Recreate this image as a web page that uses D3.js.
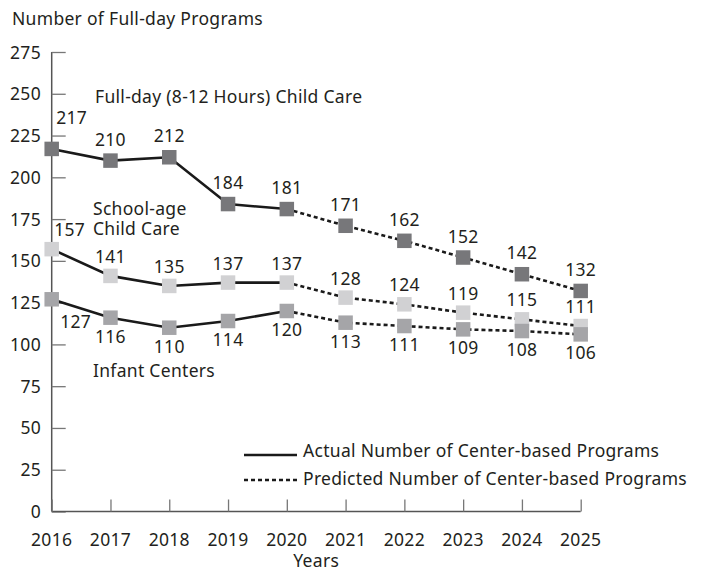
<!DOCTYPE html>
<html>
<head>
<meta charset="utf-8">
<script src="https://cdn.jsdelivr.net/npm/d3@7"></script>
<style>
  body { margin: 0; background: #fff; }
  svg text { font-family: "Noto Sans", sans-serif; fill: #231f20; font-size: 17.5px; letter-spacing: 0.3px; }
</style>
</head>
<body>
<div id="chart"></div>
<script>
// data
var years = [2016, 2017, 2018, 2019, 2020, 2021, 2022, 2023, 2024, 2025];
var lastActualYear = 2020;
var fullDay = [217, 210, 212, 184, 181, 171, 162, 152, 142, 132];
var schoolAge = [157, 141, 135, 137, 137, 128, 124, 119, 115, 111];
var infant = [127, 116, 110, 114, 120, 113, 111, 109, 108, 106];
var yTicks = [0, 25, 50, 75, 100, 125, 150, 175, 200, 225, 250, 275];
var seriesNames = ["Full-day (8-12 Hours) Child Care", "School-age Child Care", "Infant Centers"];
var legendLabels = ["Actual Number of Center-based Programs", "Predicted Number of Center-based Programs"];

var width = 707, height = 572;

var x = d3.scaleLinear().domain([2016, 2025]).range([51.7, 580.7]);
var y = d3.scaleLinear().domain([0, 275]).range([511.5, 52]);

var svg = d3.select("#chart").append("svg")
    .attr("width", width)
    .attr("height", height);

// styles per series (kept out of the data arrays)
var series = [
    { name: seriesNames[0], values: fullDay, color: "#77777a", labelDy: -15, firstDx: 20, firstDy: -25 },
    { name: seriesNames[1], values: schoolAge, color: "#d1d1d3", labelDy: -13, firstDx: 18, firstDy: -13 },
    { name: seriesNames[2], values: infant, color: "#a5a5a8", labelDy: 25, firstDx: 24, firstDy: 29 }
];

// axes
svg.append("text")
    .attr("x", 12).attr("y", 25)
    .text("Number of Full-day Programs");

var yAxis = svg.append("g")
    .attr("transform", "translate(" + x(2016) + ",0)")
    .call(d3.axisRight(y).tickValues(yTicks).tickSize(14).tickFormat(""));
yAxis.select(".domain").attr("stroke", "#555").attr("stroke-width", 1.5)
    .attr("d", "M0," + y(275) + "V" + y(0));
yAxis.selectAll(".tick line").attr("stroke", "#777").attr("stroke-width", 1.3);

svg.append("g").selectAll("text")
    .data(yTicks)
    .enter().append("text")
    .attr("x", 41)
    .attr("y", function (d) { return y(d) + 6.5; })
    .attr("text-anchor", "end")
    .text(function (d) { return d; });

var xAxis = svg.append("g")
    .attr("transform", "translate(0," + y(0) + ")")
    .call(d3.axisTop(x).tickValues(years).tickSize(12).tickFormat(""));
xAxis.select(".domain").attr("stroke", "#555").attr("stroke-width", 1.5)
    .attr("d", "M" + x(2016) + ",0H" + x(2025));
xAxis.selectAll(".tick line").attr("stroke", "#777").attr("stroke-width", 1.3);

svg.append("g").selectAll("text")
    .data(years)
    .enter().append("text")
    .attr("x", function (d) { return x(d); })
    .attr("y", 546)
    .attr("text-anchor", "middle")
    .text(function (d) { return d; });

svg.append("text")
    .attr("x", (x(2016) + x(2025)) / 2).attr("y", 567)
    .attr("text-anchor", "middle")
    .text("Years");

// lines
var line = d3.line()
    .x(function (d) { return x(d.year); })
    .y(function (d) { return y(d.value); });

series.forEach(function (s) {
    var pts = years.map(function (yr, i) { return { year: yr, value: s.values[i] }; });
    svg.append("path")
        .datum(pts.filter(function (d) { return d.year <= lastActualYear; }))
        .attr("d", line)
        .attr("fill", "none")
        .attr("stroke", "#1a1a1a")
        .attr("stroke-width", 2.6);
    svg.append("path")
        .datum(pts.filter(function (d) { return d.year >= lastActualYear; }))
        .attr("d", line)
        .attr("fill", "none")
        .attr("stroke", "#1a1a1a")
        .attr("stroke-width", 2.6)
        .attr("stroke-dasharray", "4,3");
});

// markers + value labels
var sq = 14.5;
series.forEach(function (s) {
    var g = svg.append("g");
    g.selectAll("rect")
        .data(s.values)
        .enter().append("rect")
        .attr("x", function (d, i) { return x(years[i]) - sq / 2; })
        .attr("y", function (d) { return y(d) - sq / 2; })
        .attr("width", sq).attr("height", sq)
        .attr("fill", s.color);
});
series.forEach(function (s) {
    svg.append("g").selectAll("text")
        .data(s.values)
        .enter().append("text")
        .attr("x", function (d, i) { return x(years[i]) + (i === 0 ? s.firstDx : 0); })
        .attr("y", function (d, i) { return y(d) + (i === 0 ? s.firstDy : s.labelDy); })
        .attr("text-anchor", "middle")
        .text(function (d) { return d; });
});

// series names
svg.append("text").attr("x", 95).attr("y", 103).text(seriesNames[0]);
var school = svg.append("text").attr("x", 93).attr("y", 215);
school.append("tspan").attr("x", 93).attr("dy", 0).text("School-age");
school.append("tspan").attr("x", 93).attr("dy", 20).text("Child Care");
svg.append("text").attr("x", 93).attr("y", 377).text(seriesNames[2]);

// legend
var legend = svg.append("g");
legend.append("line")
    .attr("x1", 244).attr("x2", 297).attr("y1", 455).attr("y2", 455)
    .attr("stroke", "#1a1a1a").attr("stroke-width", 2.4);
legend.append("line")
    .attr("x1", 244).attr("x2", 297).attr("y1", 480).attr("y2", 480)
    .attr("stroke", "#1a1a1a").attr("stroke-width", 2.4)
    .attr("stroke-dasharray", "4,3");
legend.append("text").attr("x", 303).attr("y", 457).text(legendLabels[0]);
legend.append("text").attr("x", 303).attr("y", 485).text(legendLabels[1]);
</script>
</body>
</html>
